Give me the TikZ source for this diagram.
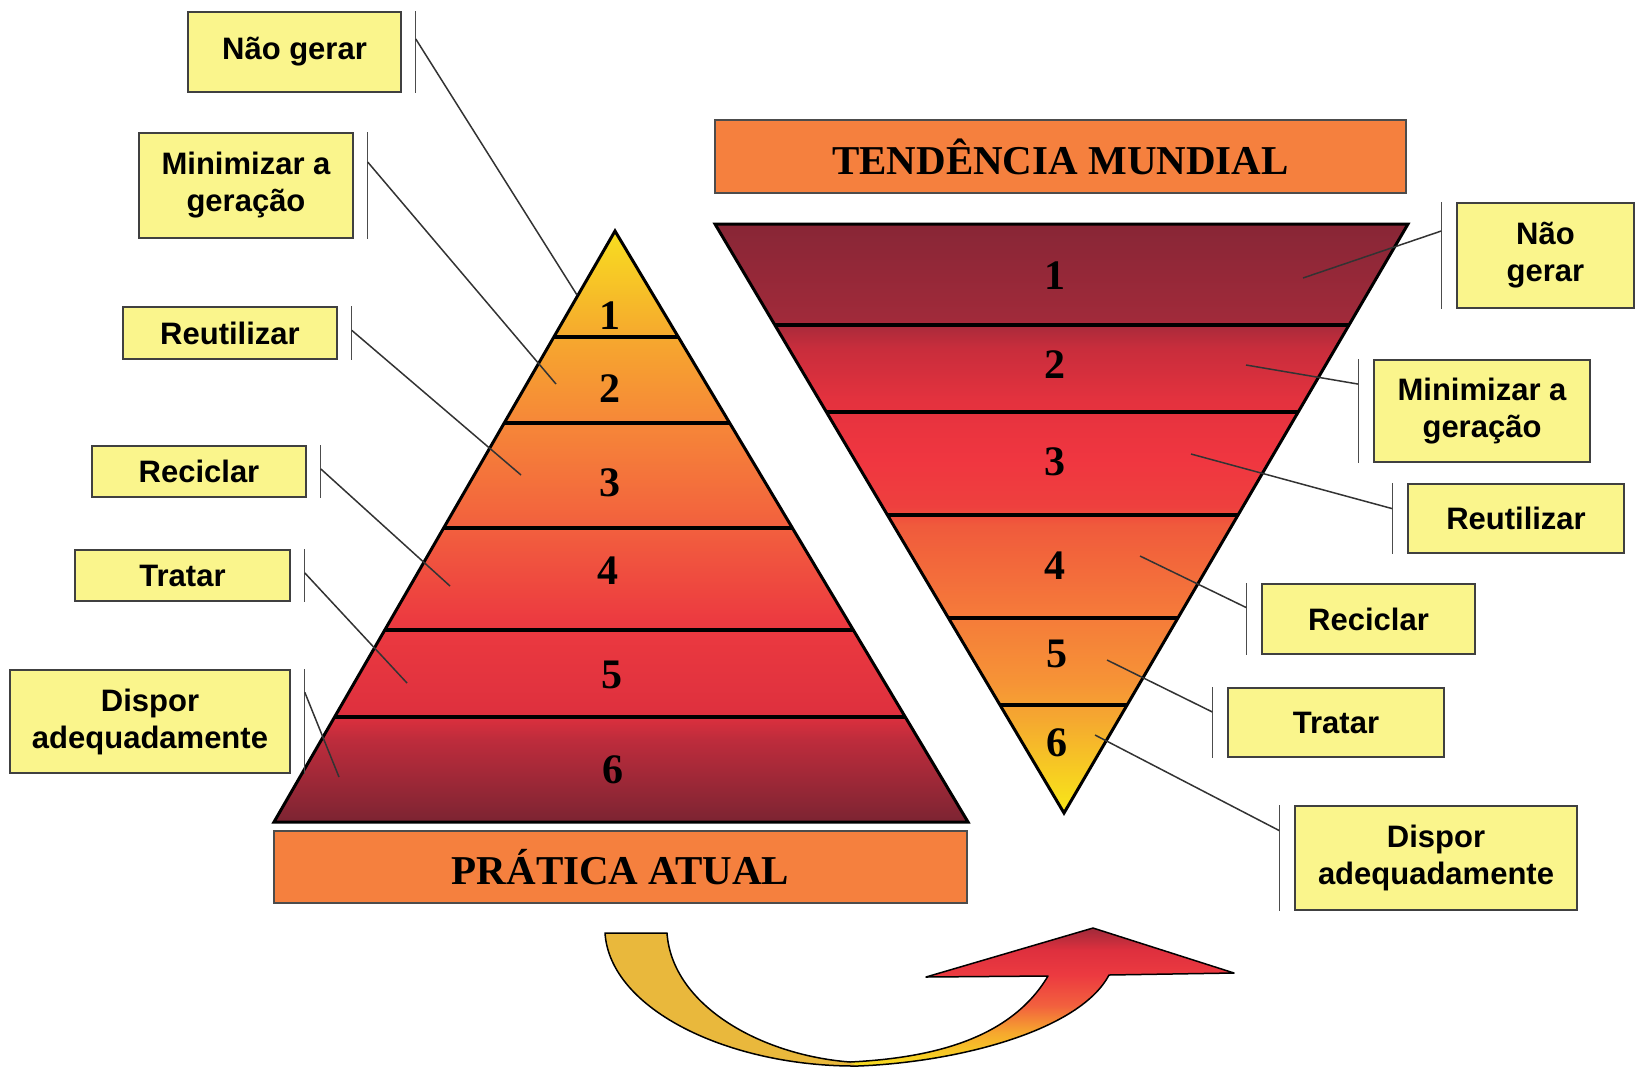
\documentclass[tikz,border=0pt]{standalone}
\usepackage{fontspec}
\setmainfont{Liberation Serif}
\newfontfamily\rotulo{Liberation Sans}
\usetikzlibrary{calc}

\definecolor{amarelo}{RGB}{250,245,140}
\definecolor{laranja}{RGB}{245,128,62}
\definecolor{ouro}{RGB}{233,184,60}
% cores da piramide
\definecolor{pA}{RGB}{247,222,32}
\definecolor{pB}{RGB}{246,168,46}
\definecolor{pC}{RGB}{246,136,56}
\definecolor{pD}{RGB}{242,96,62}
\definecolor{pE}{RGB}{236,58,64}
\definecolor{pF}{RGB}{222,48,62}
\definecolor{pG}{RGB}{190,44,60}
\definecolor{pH}{RGB}{124,36,50}
% cores da piramide invertida
\definecolor{tA}{RGB}{248,232,24}
\definecolor{tB}{RGB}{245,168,48}
\definecolor{tC}{RGB}{246,148,54}
\definecolor{tD}{RGB}{245,122,58}
\definecolor{tE}{RGB}{240,90,60}
\definecolor{tF}{RGB}{238,64,62}
\definecolor{tG}{RGB}{240,54,64}
\definecolor{tH}{RGB}{228,50,62}
\definecolor{tI}{RGB}{200,45,60}
\definecolor{tJ}{RGB}{160,42,58}
\definecolor{tK}{RGB}{136,38,54}

\pgfdeclareverticalshading{praticaatual}{100bp}{color(0bp)=(pH); color(25bp)=(pH); color(32bp)=(pG); color(34bp)=(pF); color(42bp)=(pE); color(50bp)=(pD); color(59bp)=(pC); color(66bp)=(pB); color(75bp)=(pA); color(100bp)=(pA)}
\pgfdeclareverticalshading{tendencia}{100bp}{color(0bp)=(tA); color(25bp)=(tA); color(33bp)=(tB); color(36bp)=(tC); color(42bp)=(tD); color(49.5bp)=(tE); color(51bp)=(tF); color(55bp)=(tG); color(60bp)=(tH); color(64.5bp)=(tI); color(67bp)=(tJ); color(75bp)=(tK); color(100bp)=(tK)}
\pgfdeclareverticalshading{seta}{100bp}{color(0bp)=(pA); color(25bp)=(pA); color(37bp)=(pB); color(47bp)=(pD); color(58bp)=(pE); color(67bp)=(pF); color(75bp)=(tJ); color(100bp)=(tJ)}

\tikzset{
    caixa/.style={draw=black!75, fill=amarelo, line width=1.5pt, inner sep=0pt, align=center,
        font=\rotulo\bfseries\fontsize{31}{37}\selectfont},
    faixa/.style={draw=black!70, fill=laranja, line width=1.5pt, inner sep=0pt,
        font=\bfseries\fontsize{41}{41}\selectfont},
    numero/.style={inner sep=0pt, font=\bfseries\fontsize{42}{42}\selectfont},
    degrau/.style={line width=4pt},
    contorno/.style={line width=3pt, line join=miter},
    marca/.style={line width=1.2pt, black!70},
    ligacao/.style={line width=1.5pt, black!80}
}

\begin{document}
\begin{tikzpicture}[x=1pt,y=-1pt]
        \useasboundingbox (0,0) rectangle (1635,1069);

        %%%%%%%% Piramide %%%%%%%%%
        \coordinate (topo) at (615,231);
        \coordinate (baseE) at (274,822);
        \coordinate (baseD) at (968,822);
        \shade[shading=praticaatual] (topo) -- (baseE) -- (baseD) -- cycle;
        \foreach \y in {337,423,528,630,717}
            \draw[degrau] ($(topo)!{(\y-231)/591}!(baseE)$) -- ($(topo)!{(\y-231)/591}!(baseD)$);
        \draw[contorno] (topo) -- (baseE) -- (baseD) -- cycle;
        \foreach \n/\x/\y in {1/610/316,2/610/389,3/610/483,4/608/571,5/612/675,6/613/770}
            \node[numero] (pa\n) at (\x,\y) {\n};

        %%%%%% Piramide invertida %%%%%%
        \coordinate (cantoE) at (715,224);
        \coordinate (cantoD) at (1408,224);
        \coordinate (ponta) at (1064,813);
        \shade[shading=tendencia] (cantoE) -- (cantoD) -- (ponta) -- cycle;
        \foreach \y in {325,412,515,618,705}
            \draw[degrau] ($(ponta)!{(813-\y)/589}!(cantoE)$) -- ($(ponta)!{(813-\y)/589}!(cantoD)$);
        \draw[contorno] (cantoE) -- (cantoD) -- (ponta) -- cycle;
        \foreach \n/\x/\y in {1/1055/276,2/1055/365,3/1055/462,4/1055/566,5/1057/654,6/1057/743}
            \node[numero] (tm\n) at (\x,\y) {\n};

        %%%%%%%%% Faixas %%%%%%%%%%
        \node[faixa, minimum width=693pt, minimum height=72pt] (pratica) at (620.5,867) {PRÁTICA ATUAL};
        \node[faixa, minimum width=691pt, minimum height=73pt] (tendencia) at (1060.5,156.5) {TENDÊNCIA MUNDIAL};

        %%%%%% Caixas esquerda %%%%%%
        \node[caixa, minimum width=213pt, minimum height=80pt] (naoE) at (294.5,52) {Não gerar};
        \node[caixa, minimum width=214pt, minimum height=105pt] (minE) at (246,185.5) {Minimizar a\\geração};
        \node[caixa, minimum width=214pt, minimum height=52pt] (reuE) at (230,333) {Reutilizar};
        \node[caixa, minimum width=214pt, minimum height=51pt] (recE) at (199,471.5) {Reciclar};
        \node[caixa, minimum width=215pt, minimum height=51pt] (traE) at (182.5,575.5) {Tratar};
        \node[caixa, minimum width=280pt, minimum height=103pt] (disE) at (150,721.5) {Dispor\\adequadamente};

        %%%%%% Caixas direita %%%%%%%
        \node[caixa, minimum width=177pt, minimum height=105pt] (naoD) at (1545.5,255.5) {Não\\gerar};
        \node[caixa, minimum width=216pt, minimum height=102pt] (minD) at (1482,411) {Minimizar a\\geração};
        \node[caixa, minimum width=216pt, minimum height=69pt] (reuD) at (1516,518.5) {Reutilizar};
        \node[caixa, minimum width=213pt, minimum height=70pt] (recD) at (1368.5,619) {Reciclar};
        \node[caixa, minimum width=216pt, minimum height=69pt] (traD) at (1336,722.5) {Tratar};
        \node[caixa, minimum width=282pt, minimum height=104pt] (disD) at (1436,858) {Dispor\\adequadamente};

        %%%%%%%%% Marcas %%%%%%%%%%
        \foreach \c in {naoE,minE,reuE,recE,traE,disE}
            \draw[marca] ([xshift=14pt]\c.north east) -- ([xshift=14pt]\c.south east);
        \foreach \c in {naoD,minD,reuD,recD,traD,disD}
            \draw[marca] ([xshift=-15pt]\c.north west) -- ([xshift=-15pt]\c.south west);

        %%%%%%%% Ligacoes %%%%%%%%%
        \coordinate (aE1) at (577,295);
        \coordinate (aE2) at (556,384);
        \coordinate (aE3) at (521,475);
        \coordinate (aE4) at (450,586);
        \coordinate (aE5) at (407,683);
        \coordinate (aE6) at (339,777);
        \coordinate (aD1) at (1303,278);
        \coordinate (aD2) at (1246,365);
        \coordinate (aD3) at (1191,454);
        \coordinate (aD4) at (1140,556);
        \coordinate (aD5) at (1107,660);
        \coordinate (aD6) at (1095,735);
        \foreach \c/\f/\p in {naoE/0.34/aE1,minE/0.28/aE2,reuE/0.45/aE3,recE/0.45/aE4,traE/0.45/aE5,disE/0.22/aE6}
            \draw[ligacao] ($(\c.north east)!\f!(\c.south east)+(14,0)$) -- (\p);
        \foreach \c/\f/\p in {naoD/0.27/aD1,minD/0.24/aD2,reuD/0.36/aD3,recD/0.34/aD4,traD/0.35/aD5,disD/0.24/aD6}
            \draw[ligacao] ($(\c.north west)!\f!(\c.south west)+(-15,0)$) -- (\p);

        %%%%%%%%%% Seta %%%%%%%%%%%
        \coordinate (caudaE) at (605,933);
        \coordinate (caudaD) at (667,933);
        \coordinate (fundo) at (858,1066);
        \coordinate (fundoI) at (850,1062);
        \coordinate (hasteD) at (1109,975);
        \coordinate (farpaD) at (1234,973);
        \coordinate (bico) at (1093,928);
        \coordinate (farpaE) at (926,977);
        \coordinate (hasteE) at (1048,976);
        \fill[ouro] (caudaE) .. controls (610,1010) and (730,1067) .. (fundo) -- (fundoI) .. controls (760,1055) and (672,1005) .. (caudaD) -- cycle;
        \shade[shading=seta] (fundo) .. controls (960,1062) and (1080,1030) .. (hasteD) -- (farpaD) -- (bico) -- (farpaE) -- (hasteE) .. controls (1010,1040) and (930,1058) .. (fundoI) -- cycle;
        \draw[line width=1.5pt, line join=round] (caudaE) .. controls (610,1010) and (730,1067) .. (fundo)
            .. controls (960,1062) and (1080,1030) .. (hasteD) -- (farpaD) -- (bico) -- (farpaE) -- (hasteE)
            .. controls (1010,1040) and (930,1058) .. (fundoI) .. controls (760,1055) and (672,1005) .. (caudaD) -- cycle;
\end{tikzpicture}
\end{document}
